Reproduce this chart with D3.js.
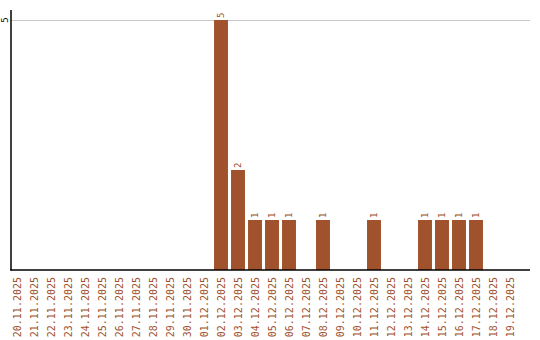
<!DOCTYPE html>
<html><head><meta charset="utf-8">
<script src="https://cdn.jsdelivr.net/npm/d3@7"></script>
<style>body{margin:0;background:#fff}</style>
</head><body>
<script>
const categories = ["20.11.2025","21.11.2025","22.11.2025","23.11.2025","24.11.2025","25.11.2025","26.11.2025","27.11.2025","28.11.2025","29.11.2025","30.11.2025","01.12.2025","02.12.2025","03.12.2025","04.12.2025","05.12.2025","06.12.2025","07.12.2025","08.12.2025","09.12.2025","10.12.2025","11.12.2025","12.12.2025","13.12.2025","14.12.2025","15.12.2025","16.12.2025","17.12.2025","18.12.2025","19.12.2025"];
const values = [0,0,0,0,0,0,0,0,0,0,0,0,5,2,1,1,1,0,1,0,0,1,0,0,1,1,1,1,0,0];
const yTicks = [5];

const W = 540, H = 340;
const color = "#A0522D";
const svg = d3.select("body").append("svg").attr("width", W).attr("height", H);

const x = d3.scaleBand().domain(categories).range([8.5, 518.5]).paddingInner(0.18).paddingOuter(0.09);
const y = d3.scaleLinear().domain([0, 5]).range([270, 20]);

// gridlines
svg.append("g").selectAll("line").data(yTicks).join("line")
  .attr("x1", 11).attr("x2", 530).attr("y1", d => y(d) + 0.5).attr("y2", d => y(d) + 0.5)
  .attr("stroke", "#c8c8c8").attr("stroke-width", 1);

// bars
const data = categories.map((c, i) => ({c, v: values[i]}));
svg.append("g").selectAll("rect").data(data.filter(d => d.v > 0)).join("rect")
  .attr("x", d => x(d.c)).attr("width", x.bandwidth())
  .attr("y", d => y(d.v)).attr("height", d => y(0) - y(d.v))
  .attr("fill", color);

// value labels
svg.append("g").selectAll("text").data(data.filter(d => d.v > 0)).join("text")
  .attr("transform", d => `translate(${x(d.c) + x.bandwidth()/2 + 3},${y(d.v) - 2}) rotate(-90)`)
  .attr("font-family", "DejaVu Sans Mono, monospace").attr("font-size", 9)
  .attr("fill", color).text(d => d.v);

// y axis
svg.append("line").attr("x1", 11).attr("x2", 11).attr("y1", 10).attr("y2", 270.5)
  .attr("stroke", "#000").attr("stroke-width", 1.5);
svg.append("g").selectAll("text").data(yTicks).join("text")
  .attr("transform", d => `translate(8,${y(d)}) rotate(-90)`)
  .attr("text-anchor", "middle")
  .attr("font-family", "DejaVu Sans Mono, monospace").attr("font-size", 9)
  .attr("fill", "#000").text(d => d);

// x axis
svg.append("line").attr("x1", 10.25).attr("x2", 530).attr("y1", 270).attr("y2", 270)
  .attr("stroke", "#000").attr("stroke-width", 1.5);
svg.append("g").selectAll("text").data(categories).join("text")
  .attr("transform", d => `translate(${x(d) + x.bandwidth()/2 + 3.5},277) rotate(-90)`)
  .attr("text-anchor", "end")
  .attr("font-family", "DejaVu Sans Mono, monospace").attr("font-size", 10)
  .attr("fill", color).text(d => d);
</script>
</body></html>
